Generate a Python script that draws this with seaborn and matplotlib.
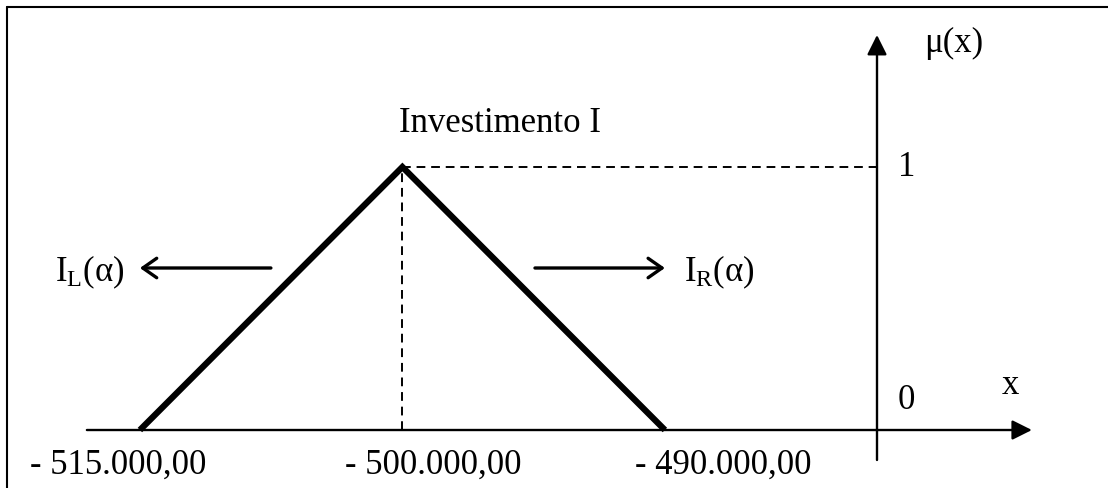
import seaborn as sns
import matplotlib.pyplot as plt
import pandas as pd
from matplotlib.lines import Line2D

sns.set_theme(style="white")
# fonte serifada como no original (Times)
plt.rcParams['font.family'] = ['Liberation Serif', 'DejaVu Serif']
plt.rcParams['mathtext.fontset'] = 'custom'
plt.rcParams['mathtext.rm'] = 'Liberation Serif'
plt.rcParams['mathtext.it'] = 'Liberation Serif:italic'
plt.rcParams['text.color'] = 'black'

# numero fuzzy triangular (posicoes esquematicas)
pos = [0, 1, 2]
mu = [0, 1, 0]
x_labels = ["- 515.000,00", "- 500.000,00", "- 490.000,00"]
title = "Investimento I"

df = pd.DataFrame({"pos": pos, "mu": mu})

fig = plt.figure(figsize=(11.08, 4.88), dpi=100)
ax = fig.add_axes([0, 0, 1, 1])
ax.set_xlim(-0.533, 3.688)
ax.set_ylim(-0.2205, 1.635)
ax.axis('off')

fs = 25
y_axis_x = 2.808

# triangulo
sns.lineplot(data=df, x="pos", y="mu", sort=False, color="black", lw=4.5,
             solid_joinstyle='miter', solid_capstyle='butt', ax=ax)

# linhas tracejadas
ax.plot([pos[1], pos[1]], [0, mu[1]], color="black", lw=1.4, ls=(0, (4.5, 3)))
ax.plot([pos[1], y_axis_x], [mu[1], mu[1]], color="black", lw=1.4, ls=(0, (4.5, 3)))

# eixos com seta
head = dict(arrowstyle='-|>,head_length=0.6,head_width=0.3', mutation_scale=20,
            color='black', lw=1.7, shrinkA=0, shrinkB=0)
ax.annotate('', xy=(3.398, 0), xytext=(-0.202, 0), arrowprops=head)
ax.annotate('', xy=(y_axis_x, 1.502), xytext=(y_axis_x, -0.114), arrowprops=head)

# setas I_L e I_R
opn = dict(arrowstyle='->,head_length=0.5,head_width=0.35', mutation_scale=20,
           color='black', lw=2.4, shrinkA=0, shrinkB=0)
ax.annotate('', xy=(pos[0], 0.616), xytext=(0.499, 0.616), arrowprops=opn)
ax.annotate('', xy=(pos[2], 0.616), xytext=(1.505, 0.616), arrowprops=opn)

ax.text(-0.06, 0.6, r'$\mathrm{I_L(α)}$', fontsize=fs, ha='right', va='center')
ax.text(2.072, 0.6, r'$\mathrm{I_R(α)}$', fontsize=fs, ha='left', va='center')

# textos
label_shift = [-0.084, 0.116, 0.221]
for p, lab, s in zip(pos, x_labels, label_shift):
    ax.text(p + s, -0.133, lab, fontsize=fs, ha='center', va='center')

ax.text(1.371, 1.167, title, fontsize=fs, ha='center', va='center')
ax.text(3.10, 1.468, 'μ(x)', fontsize=fs, ha='center', va='center')
ax.text(2.92, 1.0, '1', fontsize=fs, ha='center', va='center')
ax.text(2.92, 0.114, '0', fontsize=fs, ha='center', va='center')
ax.text(3.318, 0.17, 'x', fontsize=fs, ha='center', va='center')

# moldura (so topo e esquerda aparecem)
fig.add_artist(Line2D([7 / 1108, 1], [1 - 7 / 488, 1 - 7 / 488], color='black', lw=1.5))
fig.add_artist(Line2D([7 / 1108, 7 / 1108], [0, 1 - 7 / 488], color='black', lw=1.5))

fig.savefig('out.png', dpi=100)
